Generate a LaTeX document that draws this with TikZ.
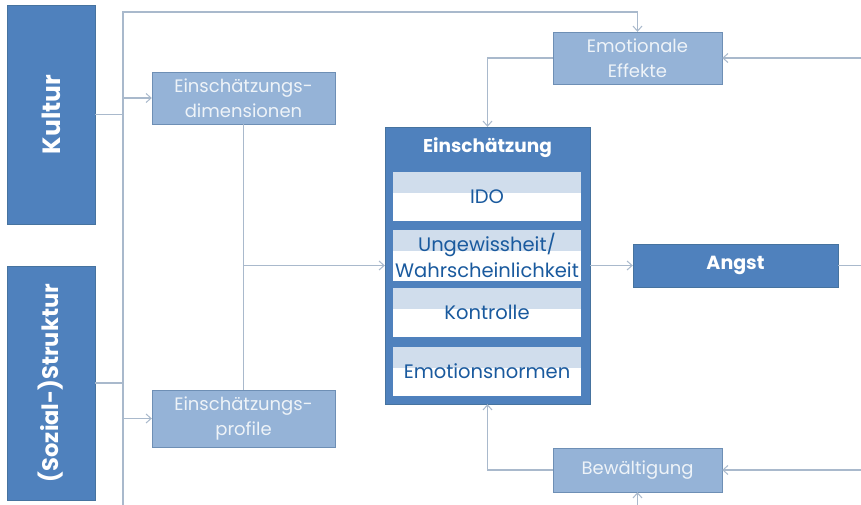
\documentclass[tikz,border=0pt]{standalone}
\usepackage{fontspec}
\setmainfont{Poppins}
\usetikzlibrary{arrows.meta}
\definecolor{darkbox}{HTML}{4F81BD}
\definecolor{darkedge}{HTML}{46739F}
\definecolor{lightbox}{HTML}{95B3D7}
\definecolor{lightedge}{HTML}{6E8FB5}
\definecolor{lighttext}{HTML}{EEF3F8}
\definecolor{band}{HTML}{D0DDEC}
\definecolor{innertext}{HTML}{1A5A9E}
\definecolor{conn}{HTML}{A9B9CC}
\begin{document}
\begin{tikzpicture}[x=1pt,y=-1pt,
  bigbox/.style={draw=darkedge,fill=darkbox,text=white,font=\bfseries\fontsize{20}{24}\selectfont,inner sep=0pt},
  smallbox/.style={draw=lightedge,fill=lightbox,text=lighttext,font=\fontsize{18}{25}\selectfont,align=center,inner sep=0pt,minimum width=183pt},
  innerbox/.style={fill=white,text=innertext,font=\fontsize{19.5}{26}\selectfont,align=center,inner sep=0pt,minimum width=188pt,minimum height=49pt,
    path picture={\fill[band] (path picture bounding box.north west) rectangle ([yshift=-21pt]path picture bounding box.north east);}},
  line/.style={draw=conn,line width=1.2pt},
  arr/.style={line,-{Straight Barb[length=5pt,width=9pt,line width=1pt]}}
]
\useasboundingbox[fill=white] (0,0) rectangle (861,505);

% left blocks
\node[bigbox,minimum width=88pt,minimum height=219pt] (kultur) at (51,114.5) {};
\node[rotate=90,text=white,font=\bfseries\fontsize{25}{28}\selectfont] (kulturtxt) at (kultur.center) {Kultur};
\node[bigbox,minimum width=88pt,minimum height=234pt] (struktur) at (51,383) {};
\node[rotate=90,text=white,font=\bfseries\fontsize{22.5}{28}\selectfont] (strukturtxt) at (struktur.center) {(Sozial-)Struktur};

% mid left
\node[smallbox,minimum height=52pt] (dims) at (243.5,98) {Einschätzungs-\\dimensionen};
\node[smallbox,minimum height=57pt] (prof) at (243.5,418.5) {Einschätzungs-\\profile};

% central block
\node[bigbox,minimum width=205pt,minimum height=277pt] (einsch) at (487.5,265.5) {};
\node[text=white,font=\bfseries\fontsize{18.5}{22}\selectfont] (title) at (487.5,148) {Einschätzung};
\node[innerbox] (ido) at (487,196.5) {IDO};
\node[innerbox,minimum height=51pt] (ung) at (487,255.5) {Ungewissheit/\\Wahrscheinlichkeit};
\node[innerbox] (kon) at (487,312.5) {Kontrolle};
\node[innerbox] (emo) at (487,371.5) {Emotionsnormen};

% right
\node[bigbox,minimum width=205pt,minimum height=43pt,font=\bfseries\fontsize{19}{22}\selectfont] (angst) at (735.5,265.5) {Angst};
\node[smallbox,minimum width=169pt,minimum height=52pt] (effekte) at (637.5,58) {Emotionale\\Effekte};
\node[smallbox,minimum width=169pt,minimum height=44pt] (bew) at (637.5,470) {Bewältigung};

% coordinates
\coordinate (trunkTop) at (123,12);
\coordinate (trunkBot) at (123,505);
\coordinate (rightE) at (861,58);
\coordinate (rightA) at (861,265.5);
\coordinate (rightB) at (861,470);
\coordinate (bottomB) at (637.5,505);

% connectors
\draw[arr] (trunkBot) -- (trunkTop) -| (effekte.north);
\draw[line] (kultur.east) -- (kultur.east -| trunkTop);
\draw[line] (struktur.east) -- (struktur.east -| trunkTop);
\draw[arr] (dims.west -| trunkTop) -- (dims.west);
\draw[arr] (prof.west -| trunkTop) -- (prof.west);
\draw[line] (dims.south) -- (prof.north);
\draw[arr] (dims.south |- einsch.west) -- (einsch.west);
\draw[arr] (einsch.east) -- (angst.west);
\draw[line] (angst.east) -- (rightA);
\draw[arr] (rightE) -- (effekte.east);
\draw[arr] (effekte.west) -| (einsch.north);
\draw[arr] (rightB) -- (bew.east);
\draw[arr] (bew.west) -| (einsch.south);
\draw[arr] (bottomB) -- (bew.south);
\end{tikzpicture}
\end{document}
